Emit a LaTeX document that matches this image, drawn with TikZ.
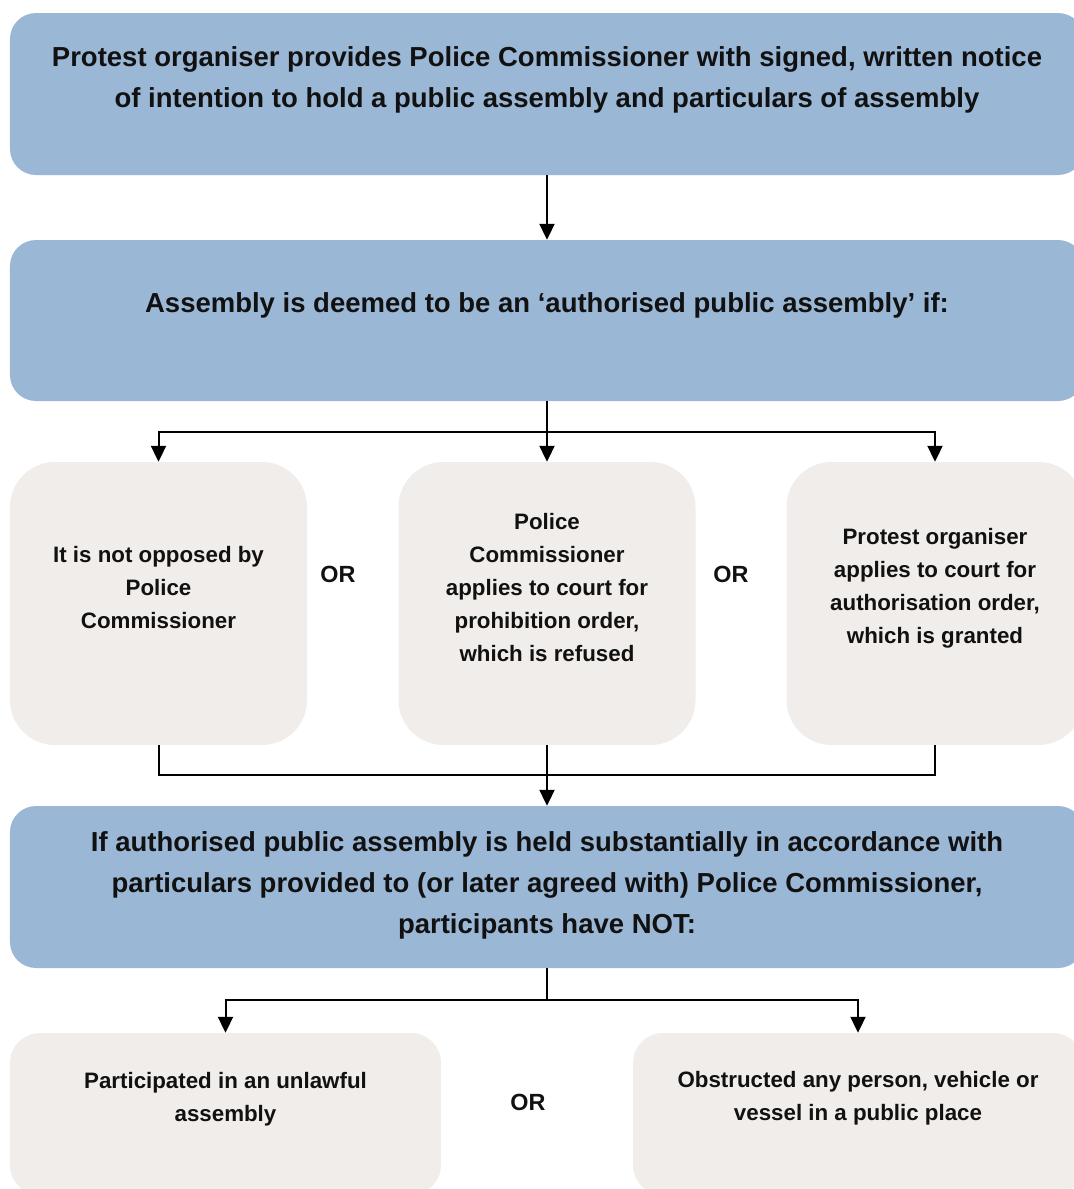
\documentclass[tikz,border=0pt]{standalone}
\usepackage{fontspec}
\setmainfont{Liberation Sans}
\usetikzlibrary{arrows.meta}
\definecolor{blu}{HTML}{9BB7D6}
\definecolor{gry}{HTML}{F0EDEA}
\definecolor{ink}{HTML}{111111}
\begin{document}
\begin{tikzpicture}[x=1bp,y=-1bp,
  bluebox/.style={rectangle,fill=blu,draw=none,rounded corners=26bp,inner sep=0pt},
  greybox/.style={rectangle,fill=gry,draw=none,rounded corners=45bp,inner sep=0pt,minimum width=297bp,minimum height=283bp},
  lowbox/.style={rectangle,fill=gry,draw=none,rounded corners=30bp,inner sep=0pt,minimum height=162bp},
  bigtxt/.style={text=ink,font=\bfseries\fontsize{27.6}{41}\selectfont,align=center,inner sep=0pt},
  smtxt/.style={text=ink,font=\bfseries\fontsize{22.4}{33}\selectfont,align=center,inner sep=0pt},
  ortxt/.style={text=ink,font=\bfseries\fontsize{23.5}{25}\selectfont,inner sep=0pt},
  conn/.style={draw=black,line width=2bp},
  arr/.style={conn,-{Triangle[width=15bp,length=16bp]}}]
\useasboundingbox (0,0) rectangle (1074,1189);
\clip (0,0) rectangle (1074,1189);
% boxes
\node[bluebox,minimum width=1074bp,minimum height=162bp] (b1) at (547,94) {};
\node[bluebox,minimum width=1074bp,minimum height=161bp] (b2) at (547,320.5) {};
\node[greybox] (gA) at (158.5,603.5) {};
\node[greybox] (gB) at (547,603.5) {};
\node[greybox] (gC) at (935,603.5) {};
\node[bluebox,minimum width=1074bp,minimum height=162bp] (b4) at (547,887) {};
\node[lowbox,minimum width=431bp] (bL) at (225.5,1114) {};
\node[lowbox,minimum width=450bp] (bR) at (858,1114) {};
% texts
\node[bigtxt] (t1) at (547,79.5) {Protest organiser provides Police Commissioner with signed, written notice\\of intention to hold a public assembly and particulars of assembly};
\node[bigtxt] (t2) at (547,305) {Assembly is deemed to be an ‘authorised public assembly’ if:};
\node[smtxt] (tA) at (158.5,587.5) {It is not opposed by\\Police\\Commissioner};
\node[smtxt] (tB) at (547,587.5) {Police\\Commissioner\\applies to court for\\prohibition order,\\which is refused};
\node[smtxt] (tC) at (935,588) {Protest organiser\\applies to court for\\authorisation order,\\which is granted};
\node[bigtxt] (t4) at (547,885.5) {If authorised public assembly is held substantially in accordance with\\particulars provided to (or later agreed with) Police Commissioner,\\participants have NOT:};
\node[smtxt] (tL) at (225.5,1099) {Participated in an unlawful\\assembly};
\node[smtxt] (tR) at (858,1098.5) {Obstructed any person, vehicle or\\vessel in a public place};
\node[ortxt] (or1) at (338,574.5) {OR};
\node[ortxt] (or2) at (731,574.5) {OR};
\node[ortxt] (or3) at (528,1102.5) {OR};
% connectors
\coordinate (j1) at (547,432);
\coordinate (j2) at (547,775);
\coordinate (j3) at (547,1000);
\draw[arr] (b1.south) -- (b2.north);
\draw[conn] (b2.south) -- (j1);
\draw[arr] (j1) -| (gA.north);
\draw[arr] (j1) -- (gB.north);
\draw[arr] (j1) -| (gC.north);
\draw[conn] (gA.south) |- (j2);
\draw[conn] (gC.south) |- (j2);
\draw[conn] (gB.south) -- (j2);
\draw[arr] (j2) -- (b4.north);
\draw[conn] (b4.south) -- (j3);
\draw[arr] (j3) -| (bL.north);
\draw[arr] (j3) -| (bR.north);
\end{tikzpicture}
\end{document}
